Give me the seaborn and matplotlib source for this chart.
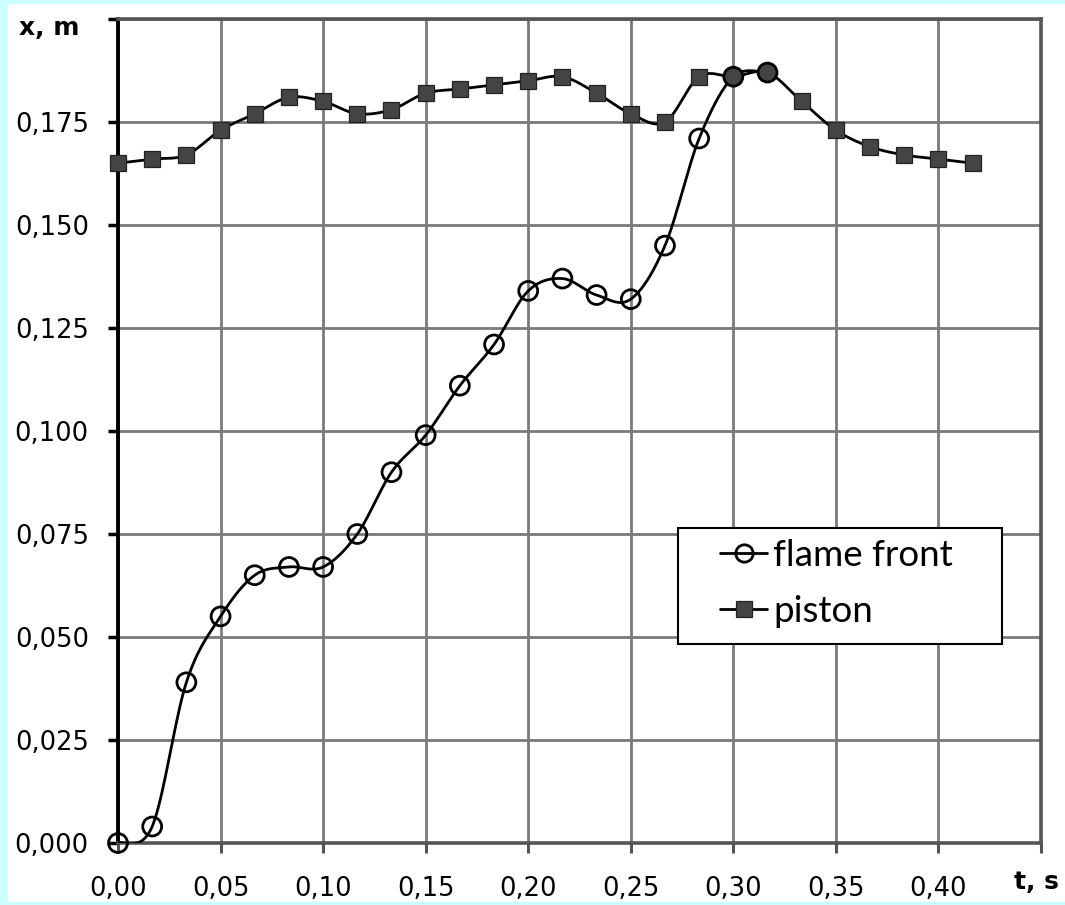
import numpy as np
import pandas as pd
import matplotlib
matplotlib.use("Agg")
import matplotlib.pyplot as plt
from matplotlib.lines import Line2D
from matplotlib.patches import Rectangle
import seaborn as sns

# ---- data ----
t_step = 1.0 / 60.0
flame_front = [0.000, 0.004, 0.039, 0.055, 0.065, 0.067, 0.067, 0.075, 0.090, 0.099,
               0.111, 0.121, 0.134, 0.137, 0.133, 0.132, 0.145, 0.171, 0.186, 0.187]
piston = [0.165, 0.166, 0.167, 0.173, 0.177, 0.181, 0.180, 0.177, 0.178, 0.182,
          0.183, 0.184, 0.185, 0.186, 0.182, 0.177, 0.175, 0.186, 0.186, 0.187,
          0.180, 0.173, 0.169, 0.167, 0.166, 0.165]
t_flame = [i * t_step for i in range(len(flame_front))]
t_piston = [i * t_step for i in range(len(piston))]
x_ticks = [0.00, 0.05, 0.10, 0.15, 0.20, 0.25, 0.30, 0.35, 0.40]
y_ticks = [0.000, 0.025, 0.050, 0.075, 0.100, 0.125, 0.150, 0.175]
series_names = ["flame front", "piston"]


def smooth(x, y, n=30):
    """Excel-like smoothed line (Bezier/Catmull-Rom through the data points)."""
    x = np.asarray(x, float)
    y = np.asarray(y, float)
    px = np.concatenate([[x[0]], x, [x[-1]]])
    py = np.concatenate([[y[0]], y, [y[-1]]])
    xs, ys = [], []
    for i in range(1, len(px) - 2):
        p0, p1, p2, p3 = (np.array([px[j], py[j]]) for j in (i - 1, i, i + 1, i + 2))
        c1 = p1 + (p2 - p0) / 6.0
        c2 = p2 - (p3 - p1) / 6.0
        s = np.linspace(0, 1, n, endpoint=(i == len(px) - 3))
        b = ((1 - s) ** 3)[:, None] * p1 + (3 * (1 - s) ** 2 * s)[:, None] * c1 \
            + (3 * (1 - s) * s ** 2)[:, None] * c2 + (s ** 3)[:, None] * p2
        xs.append(b[:, 0])
        ys.append(b[:, 1])
    return np.concatenate(xs), np.concatenate(ys)


sns.set_style("white")
plt.rcParams["font.family"] = ["DejaVu Sans"]
plt.rcParams["text.color"] = "black"
plt.rcParams["xtick.color"] = "black"
plt.rcParams["ytick.color"] = "black"
plt.rcParams["xtick.labelcolor"] = "black"
plt.rcParams["ytick.labelcolor"] = "black"

fig = plt.figure(figsize=(10.65, 9.05), dpi=100, facecolor="#CCFFFF")
bg = Rectangle((8 / 1065, 3 / 905), 1 - 8 / 1065, 1 - 7 / 905,
               transform=fig.transFigure, facecolor="white",
               edgecolor="none", zorder=-10)
fig.patches.append(bg)
ax = fig.add_axes([118 / 1065, 1 - 843 / 905, 923 / 1065, 824 / 905])
ax.set_zorder(1)
ax.set_facecolor("white")

grid_c = "#7a7a7a"
lw = 2.0

# smoothed curves
fx, fy = smooth(t_flame, flame_front)
px_, py_ = smooth(t_piston, piston)
sns.lineplot(x=px_, y=py_, sort=False, estimator=None, color="black", lw=lw, ax=ax, zorder=4)
sns.lineplot(x=fx, y=fy, sort=False, estimator=None, color="black", lw=lw, ax=ax, zorder=4)

# piston markers (hidden under the dark circles where both series meet)
pdf = pd.DataFrame({"t": t_piston, "x": piston})
pmask = [i not in (18, 19) for i in range(len(piston))]
ax.plot(pdf["t"][pmask], pdf["x"][pmask], ls="none", marker="s", ms=11.5,
        mfc="#444444", mec="#222222", mew=0.9, zorder=5, clip_on=False)

# flame front markers
fdf = pd.DataFrame({"t": t_flame, "x": flame_front})
fc = ["none"] * len(flame_front)
fc[18] = "#444444"
fc[19] = "#444444"
sns.scatterplot(data=fdf, x="t", y="x", marker="o", s=185, facecolors=fc,
                edgecolor="black", linewidth=2.0, ax=ax, zorder=6, clip_on=False)

ax.set_xlim(0, 0.45)
ax.set_ylim(0, 0.2)
ax.set_xticks(x_ticks)
ax.set_yticks(y_ticks)
ax.set_xticklabels([f"{v:.2f}".replace(".", ",") for v in x_ticks])
ax.set_yticklabels([f"{v:.3f}".replace(".", ",") for v in y_ticks])
ax.set_xticks([0.45], minor=True)
ax.set_yticks([0.2], minor=True)
ax.tick_params(axis="y", which="both", direction="out", length=7, width=2.5,
               color="black", labelsize=18.5, pad=14, left=True)
ax.tick_params(axis="x", which="both", direction="out", length=7, width=2.2,
               color="#555555", labelsize=18.5, pad=17, bottom=True)
ax.tick_params(axis="x", which="minor", labelbottom=False)
ax.tick_params(axis="y", which="minor", labelleft=False)

ax.grid(True, which="both", color=grid_c, lw=2.0)
ax.set_axisbelow(True)
ax.set_xlabel("")
ax.set_ylabel("")
for side, sp in ax.spines.items():
    sp.set_visible(True)
    sp.set_color("#555555")
    sp.set_linewidth(2.6)
    sp.set_zorder(3)
ax.spines["left"].set_color("black")
ax.spines["left"].set_linewidth(2.8)

fig.text(49 / 1065, 1 - 28 / 905, "x, m", ha="center", va="center",
         fontsize=18, fontweight="bold", color="black")
fig.text(1036 / 1065, 1 - 882 / 905, "t, s", ha="center", va="center",
         fontsize=18, fontweight="bold", color="black")

# legend frame (drawn as a box) with a frameless legend inside
frame = Rectangle(((678 - 118) / 923, (843 - 644) / 824), 324 / 923, 116 / 824,
                  transform=ax.transAxes, facecolor="white", edgecolor="black",
                  lw=1.5, zorder=9)
ax.add_patch(frame)
handles = [
    Line2D([], [], color="black", lw=lw, marker="o", ms=12.5, mfc="none",
           mec="black", mew=2.0),
    Line2D([], [], color="black", lw=lw, marker="s", ms=11, mfc="#444444",
           mec="#222222", mew=0.9),
]
leg = ax.legend(handles, series_names, loc="upper left",
                bbox_to_anchor=((720 - 118) / 923, (843 - 539) / 824),
                prop={"family": "Lato", "size": 26.5}, frameon=False,
                borderpad=0, labelspacing=0.63,
                handlelength=1.28, handletextpad=0.16, borderaxespad=0)
leg.set_zorder(10)

fig.savefig("out.png", dpi=100, facecolor=fig.get_facecolor())
